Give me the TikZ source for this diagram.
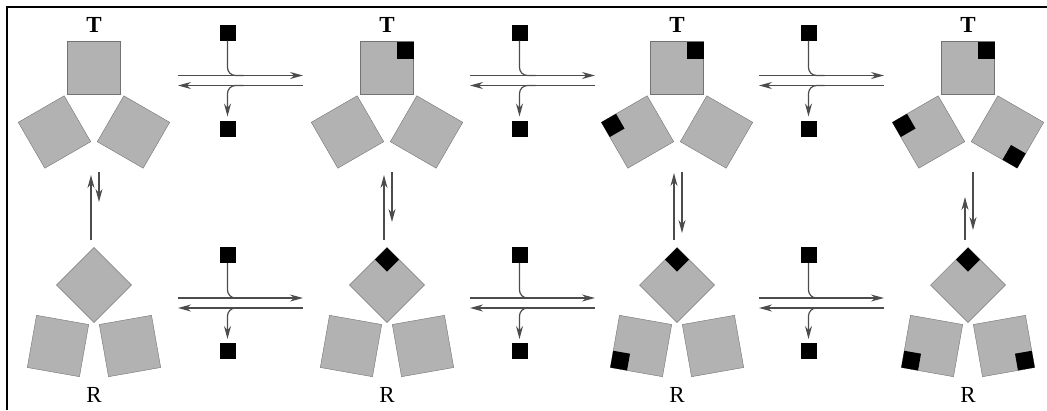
\documentclass[tikz,border=0pt]{standalone}
\usepackage{fontspec}
\setmainfont{Liberation Serif}
\usepackage{tikz}
\usetikzlibrary{arrows.meta}

\tikzset{
  subunit/.style={draw=black!55, fill=black!30, minimum size=53pt, inner sep=0pt, outer sep=0pt},
  site/.style={fill=black, minimum size=17pt, inner sep=0pt, outer sep=0pt},
  ligand/.style={fill=black, minimum size=16pt, inner sep=0pt, outer sep=0pt},
  flow/.style={draw=black!70, line width=1.2pt},
  tip/.style={-{Stealth[length=13pt,width=7pt]}},
  statelabel/.style={font=\fontsize{23}{27}\selectfont}
}

\begin{document}
\begin{tikzpicture}[x=1pt, y=-1pt]
\useasboundingbox (0,0) rectangle (1047,410);

% Frame
\draw[line width=1.2pt] (7,410) -- (7,7) -- (1047,7);

% Subunits of the T and R states
\foreach \i/\x in {1/94, 2/387, 3/677, 4/968} {
    \node[statelabel, font=\fontsize{23}{27}\selectfont\bfseries] (tl\i) at (\x,25) {T};
    \node[subunit] (ta\i) at (\x,68) {};
    \node[subunit, rotate=30] (tb\i) at ({\x-39.5},132) {};
    \node[subunit, rotate=-30] (tc\i) at ({\x+39.5},132) {};
    \node[subunit, rotate=45] (ra\i) at (\x,285) {};
    \node[subunit, rotate=-10] (rb\i) at ({\x-36},346) {};
    \node[subunit, rotate=10] (rc\i) at ({\x+36},346) {};
    \node[statelabel] (rl\i) at (\x,395) {R};
    \coordinate (tn\i) at (\x,172);
    \coordinate (rn\i) at (\x,240);
}

% Bound sites
\node[site, anchor=north east] at (ta2.north east) {};
\node[site, rotate=45, anchor=north east] at (ra2.north east) {};
\node[site, anchor=north east] at (ta3.north east) {};
\node[site, rotate=30, anchor=north west] at (tb3.north west) {};
\node[site, rotate=45, anchor=north east] at (ra3.north east) {};
\node[site, rotate=-10, anchor=south west] at (rb3.south west) {};
\node[site, anchor=north east] at (ta4.north east) {};
\node[site, rotate=30, anchor=north west] at (tb4.north west) {};
\node[site, rotate=-30, anchor=south east] at (tc4.south east) {};
\node[site, rotate=45, anchor=north east] at (ra4.north east) {};
\node[site, rotate=-10, anchor=south west] at (rb4.south west) {};
\node[site, rotate=10, anchor=south east] at (rc4.south east) {};

% T <-> R equilibria
\foreach \i/\u/\d in {1/3/38, 2/3/18, 3/1/7, 4/25/10} {
    \draw[flow, tip, shorten >=\u pt] ([xshift=-3pt]rn\i) -- ([xshift=-3pt]tn\i);
    \draw[flow, tip, shorten >=\d pt] ([xshift=5pt]tn\i) -- ([xshift=5pt]rn\i);
}

% Ligand binding steps
\foreach \j/\m in {1/240.5, 2/532.5, 3/821.5} {
  \foreach \k/\y in {t/80.5, b/303} {
    \node[ligand] (li\k\j) at ({\m-13},{\y-48}) {};
    \node[ligand] (lo\k\j) at ({\m-13},{\y+48}) {};
    \coordinate (fa\k\j) at ({\m-62.5},{\y-5});
    \coordinate (fb\k\j) at ({\m+62.5},{\y-5});
    \coordinate (ba\k\j) at ({\m+62.5},{\y+5});
    \coordinate (bb\k\j) at ({\m-62.5},{\y+5});
    \coordinate (ji\k\j) at ({\m+3},{\y-5});
    \coordinate (jo\k\j) at ({\m+3},{\y+5});
    \draw[flow, tip] (fa\k\j) -- (fb\k\j);
    \draw[flow, tip] (ba\k\j) -- (bb\k\j);
    \draw[flow, rounded corners=8pt] (li\k\j.south) |- (ji\k\j);
    \draw[flow, tip, rounded corners=8pt, shorten >=4pt] (jo\k\j) -| (lo\k\j.north);
  }
}
\end{tikzpicture}
\end{document}
